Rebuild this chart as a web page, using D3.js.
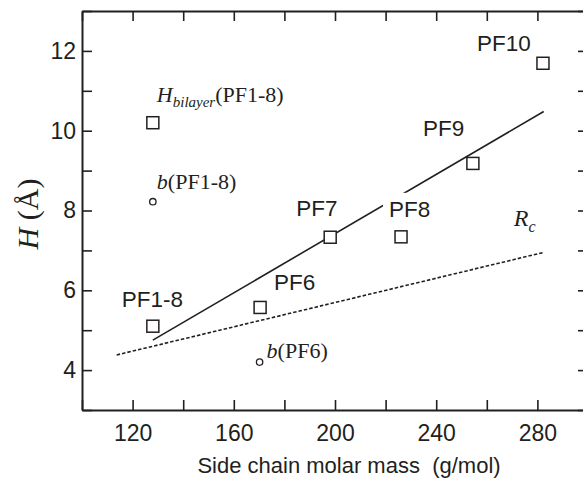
<!DOCTYPE html>
<html>
<head>
<meta charset="utf-8">
<script src="https://cdn.jsdelivr.net/npm/d3@7"></script>
<style>
  body { margin: 0; background: #fff; }
  svg { display: block; }
</style>
</head>
<body>
<div id="chart"></div>
<script>
// measured H values (squares)
var squareNames = ["PF1-8", "PF6", "PF7", "PF8", "PF9", "PF10", "Hbilayer"];
var squareMass  = [128, 170.4, 198.1, 226.1, 254.5, 282.2, 128];
var squareH     = [5.1, 5.57, 7.33, 7.34, 9.18, 11.69, 10.2];

// b values (circles)
var circleNames = ["b(PF1-8)", "b(PF6)"];
var circleMass  = [128, 170.2];
var circleH     = [8.22, 4.2];

// linear fit and Rc lines (end points)
var fitMass = [128, 282.5];
var fitH    = [4.75, 10.48];
var rcMass  = [113.7, 282.5];
var rcH     = [4.38, 6.95];

var xTicks = [100, 120, 140, 160, 180, 200, 220, 240, 260, 280, 300];
var xLabels = [120, 160, 200, 240, 280];
var yTicks = [3, 4, 5, 6, 7, 8, 9, 10, 11, 12, 13];
var yLabels = [4, 6, 8, 10, 12];

var width = 583, height = 480;
var margin = {top: 11, left: 82, right: -5, bottom: 70};
var ink = "#231f20";
var sans = "'Liberation Sans', Arial, sans-serif";
var serif = "'Liberation Serif', 'Times New Roman', serif";

var svg = d3.select("#chart").append("svg")
    .attr("width", width)
    .attr("height", height)
    .style("background", "#fff");

var x = d3.scaleLinear().domain([100, 300]).range([margin.left, width - margin.right]);
var y = d3.scaleLinear().domain([3, 13]).range([height - margin.bottom, margin.top]);

function fmtX(d) { return xLabels.indexOf(d) >= 0 ? d : ""; }
function fmtY(d) { return yLabels.indexOf(d) >= 0 ? d : ""; }

var gx = svg.append("g").attr("transform", "translate(0," + y(3) + ")")
    .call(d3.axisBottom(x).tickValues(xTicks).tickFormat(fmtX).tickSize(-10).tickSizeOuter(0).tickPadding(15));
var gy = svg.append("g").attr("transform", "translate(" + x(100) + ",0)")
    .call(d3.axisLeft(y).tickValues(yTicks).tickFormat(fmtY).tickSize(-10).tickSizeOuter(0).tickPadding(6));
var gt = svg.append("g").attr("transform", "translate(0," + y(13) + ")")
    .call(d3.axisTop(x).tickValues(xTicks).tickFormat("").tickSize(-10).tickSizeOuter(0));
var gr = svg.append("g").attr("transform", "translate(" + x(300) + ",0)")
    .call(d3.axisRight(y).tickValues(yTicks).tickFormat("").tickSize(-10).tickSizeOuter(0));

[gx, gy, gt, gr].forEach(function(g) {
  g.selectAll("path.domain").attr("stroke", ink).attr("stroke-width", 2);
  g.selectAll(".tick line").attr("stroke", ink).attr("stroke-width", 1.6);
  g.selectAll(".tick text").attr("fill", ink).style("font-family", sans).style("font-size", "23px");
});

// axis titles
svg.append("text")
    .attr("x", 349).attr("y", 473)
    .attr("text-anchor", "middle")
    .style("font-family", sans).style("font-size", "22px")
    .style("white-space", "pre")
    .attr("fill", ink)
    .text("Side chain molar mass  (g/mol)");

var yt = svg.append("text")
    .attr("transform", "translate(38,214) rotate(-90)")
    .attr("text-anchor", "middle")
    .style("font-family", serif).style("font-size", "30px")
    .attr("fill", ink);
yt.append("tspan").style("font-style", "italic").text("H");
yt.append("tspan").text(" (Å)");

// lines
var line = d3.line().x(function(d) { return x(d[0]); }).y(function(d) { return y(d[1]); });

svg.append("path")
    .datum(d3.zip(fitMass, fitH))
    .attr("d", line)
    .attr("fill", "none").attr("stroke", ink).attr("stroke-width", 1.6);

svg.append("path")
    .datum(d3.zip(rcMass, rcH))
    .attr("d", line)
    .attr("fill", "none").attr("stroke", ink).attr("stroke-width", 1.6)
    .attr("stroke-dasharray", "3.5,2");

// label offsets in pixels from each point (text start, baseline)
var labelOffset = {
  "PF1-8": [-31, -19], "PF6": [14, -17], "PF7": [-34, -21], "PF8": [-12, -20],
  "PF9": [-50, -27], "PF10": [-66, -12], "Hbilayer": [4, -21],
  "b(PF1-8)": [4, -13], "b(PF6)": [7, -4]
};

var squares = d3.zip(squareNames, squareMass, squareH);
var circles = d3.zip(circleNames, circleMass, circleH);

// PF labels (sans)
squares.forEach(function(d) {
  var off = labelOffset[d[0]];
  var lx = x(d[1]) + off[0], ly = y(d[2]) + off[1];
  if (d[0] === "Hbilayer") {
    var t = svg.append("text").attr("x", lx).attr("y", ly)
        .style("font-family", serif).style("font-size", "22px").attr("fill", ink);
    t.append("tspan").style("font-style", "italic").text("H");
    t.append("tspan").style("font-style", "italic").style("font-size", "15px").attr("dy", 5).text("bilayer");
    t.append("tspan").attr("dy", -5).text("(PF1-8)");
    return;
  }
  if (d[0] === "PF8") {
    // the fit line is broken around this label
    svg.append("rect").attr("x", lx - 6).attr("y", ly - 24)
        .attr("width", 50).attr("height", 26).attr("fill", "#fff");
  }
  svg.append("text").attr("x", lx).attr("y", ly)
      .style("font-family", sans).style("font-size", "22.5px").attr("fill", ink)
      .text(d[0]);
});

circles.forEach(function(d) {
  var off = labelOffset[d[0]];
  var t = svg.append("text").attr("x", x(d[1]) + off[0]).attr("y", y(d[2]) + off[1])
      .style("font-family", serif).style("font-size", "22px").attr("fill", ink);
  t.append("tspan").style("font-style", "italic").text("b");
  t.append("tspan").text(d[0].slice(1));
});

// Rc label near the end of the dashed line
var rc = svg.append("text")
    .attr("x", x(rcMass[1]) - 30).attr("y", y(rcH[1]) - 26)
    .style("font-family", serif).style("font-size", "24px").attr("fill", ink);
rc.append("tspan").style("font-style", "italic").text("R");
rc.append("tspan").style("font-style", "italic").style("font-size", "16px").attr("dy", 6).text("c");

// markers
var s = 12;
svg.selectAll("rect.sq")
    .data(squares)
    .enter().append("rect")
    .attr("class", "sq")
    .attr("x", function(d) { return x(d[1]) - s / 2; })
    .attr("y", function(d) { return y(d[2]) - s / 2; })
    .attr("width", s).attr("height", s)
    .attr("fill", "#fff").attr("stroke", ink).attr("stroke-width", 1.5);

svg.selectAll("circle.b")
    .data(circles)
    .enter().append("circle")
    .attr("class", "b")
    .attr("cx", function(d) { return x(d[1]); })
    .attr("cy", function(d) { return y(d[2]); })
    .attr("r", 3.2)
    .attr("fill", "#fff").attr("stroke", ink).attr("stroke-width", 1.3);
</script>
</body>
</html>
